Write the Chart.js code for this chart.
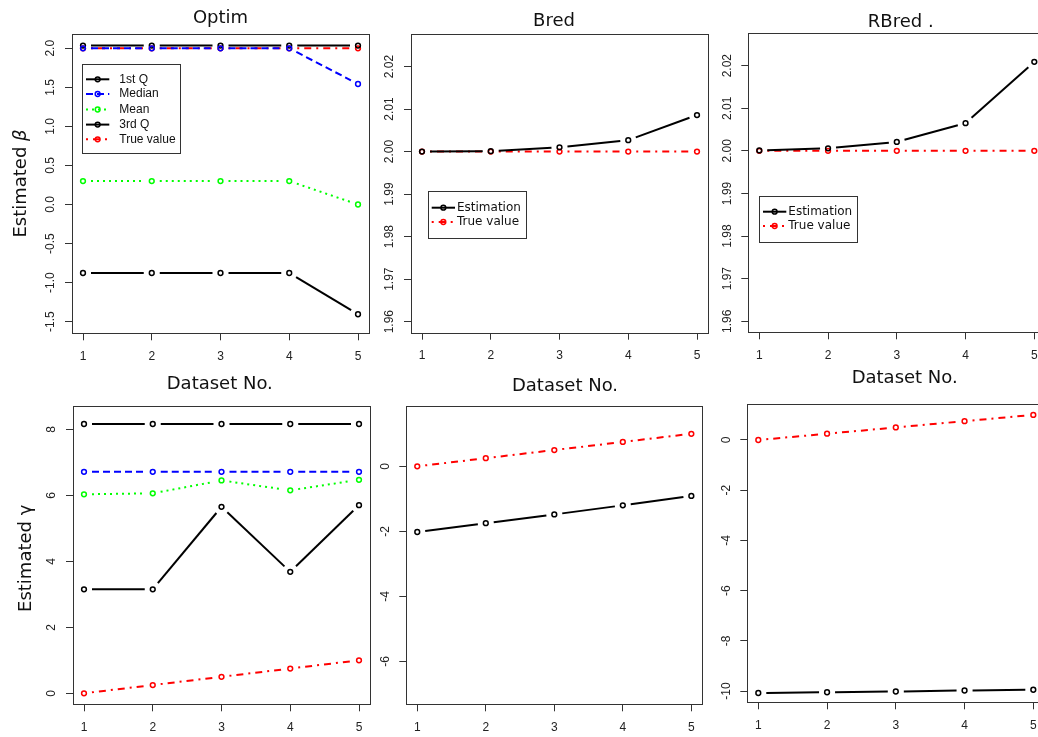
<!DOCTYPE html>
<html>
<head>
<meta charset="utf-8">
<script src="https://cdn.jsdelivr.net/npm/chart.js@4.4.1/dist/chart.umd.min.js"></script>
<style>
  html, body { margin: 0; padding: 0; background: #fff; }
  #page { position: relative; width: 1038px; height: 737px; overflow: hidden; background: #fff; }
  #page canvas { position: absolute; left: 0; top: 0; }
</style>
</head>
<body>
<div id="page"></div>
<script>
// values
const datasetNo = [1, 2, 3, 4, 5];

const betaOptim1stQ = [-0.877, -0.877, -0.877, -0.877, -1.405];
const betaOptimMedian = [2.0, 2.0, 2.0, 2.0, 1.543];
const betaOptimMean = [0.30, 0.30, 0.30, 0.30, 0.0];
const betaOptim3rdQ = [2.035, 2.035, 2.035, 2.035, 2.035];
const betaTrue = [2, 2, 2, 2, 2];
const betaBred = [2.0000, 2.0001, 2.0010, 2.0027, 2.0086];
const betaRBred = [2.0001, 2.0006, 2.0021, 2.0065, 2.0209];

const gammaOptim1stQ = [3.15, 3.15, 5.65, 3.68, 5.70];
const gammaOptimMedian = [6.71, 6.71, 6.71, 6.71, 6.71];
const gammaOptimMean = [6.03, 6.06, 6.45, 6.15, 6.47];
const gammaOptim3rdQ = [8.16, 8.16, 8.16, 8.16, 8.16];
const gammaTrue = [0, 0.25, 0.5, 0.75, 1.0];
const gammaBred = [-2.02, -1.75, -1.48, -1.20, -0.91];
const gammaRBred = [-10.08, -10.05, -10.02, -9.98, -9.95];

// tick labels
const xTicks = [1, 2, 3, 4, 5];
const betaOptimTicks = [-1.5, -1.0, -0.5, 0.0, 0.5, 1.0, 1.5, 2.0];
const betaBredTicks = [1.96, 1.97, 1.98, 1.99, 2.00, 2.01, 2.02];
const gammaOptimTicks = [0, 2, 4, 6, 8];
const gammaBredTicks = [-6, -4, -2, 0];
const gammaRBredTicks = [-10, -8, -6, -4, -2, 0];

const W = 1060, H = 737;
const LTY = { solid: null, dashed: [7, 4], dotted: [2, 4], dotdash: [2, 5, 7, 5] };
const GAP = 8;
const TICKFONT = '12px "Liberation Sans"';
const BIGFONT = '18px "DejaVu Sans"';

function segLen(sc) {
  return Math.hypot(sc.p1.x - sc.p0.x, sc.p1.y - sc.p0.y);
}

// R type="b": the line stops short of every point.
// one dash period == one segment, shifted so it opens with half the gap
function gapPattern(pattern, L) {
  const inner = L - 2 * GAP;
  if (!isFinite(L) || !(inner > 0)) return null;
  if (!pattern) return [inner, 2 * GAP];
  const dash = [];
  let used = 0, i = 0;
  while (used < inner - 0.01) {
    const on = Math.min(pattern[i % pattern.length], inner - used); used += on;
    const off = Math.min(pattern[(i + 1) % pattern.length], inner - used); used += off;
    dash.push(on, off);
    i += 2;
  }
  dash[dash.length - 1] += 2 * GAP;
  return dash;
}

function series(label, values, color, lty) {
  const pat = LTY[lty];
  return {
    label: label,
    lty: lty,
    data: values.map((v, i) => ({ x: datasetNo[i], y: v })),
    borderColor: color,
    borderWidth: 2,
    tension: 0,
    pointStyle: 'circle',
    pointRadius: 2.4,
    pointBorderWidth: 1.5,
    pointBorderColor: color,
    pointBackgroundColor: 'rgba(0,0,0,0)',
    segment: {
      borderDash: sc => gapPattern(pat, segLen(sc)) || (pat || []),
      borderDashOffset: sc => (gapPattern(pat, segLen(sc)) ? segLen(sc) - GAP : 0)
    }
  };
}

const panels = [
  {
    box: [72, 34.3, 369, 333.3], yMin: -1.649, yMax: 2.179, yTicks: betaOptimTicks, dec: 1,
    datasets: [
      series('1st Q', betaOptim1stQ, '#000000', 'solid'),
      series('Median', betaOptimMedian, '#0000ff', 'dashed'),
      series('Mean', betaOptimMean, '#00ff00', 'dotted'),
      series('3rd Q', betaOptim3rdQ, '#000000', 'solid'),
      series('True value', betaTrue, '#ff0000', 'dotdash')
    ],
    title: { text: 'Optim', x: 220.5, y: 23.3 },
    xlab: { text: 'Dataset No.', x: 219.8, y: 389.3 },
    ylab: { text: 'Estimated ', sym: 'β', italic: true, x: 26, y: 183.5 },
    legend: { box: [82.3, 64, 180, 153.3], rows: [79.3, 94, 109.5, 124.6, 139.3], line: [86, 109.3], textX: 119.3, font: '12px "Liberation Sans"' }
  },
  {
    box: [411, 34.3, 708, 332.7], yMin: 1.9574, yMax: 2.0276, yTicks: betaBredTicks, dec: 2,
    datasets: [
      series('Estimation', betaBred, '#000000', 'solid'),
      series('True value', betaTrue, '#ff0000', 'dotdash')
    ],
    title: { text: 'Bred', x: 554, y: 25.7 },
    xlab: { text: 'Dataset No.', x: 565, y: 390.7 },
    legend: { box: [427.7, 191.3, 525.7, 238.3], rows: [207.7, 222], line: [431.7, 455], textX: 457, font: '12px "DejaVu Sans"' }
  },
  {
    box: [748.3, 33.3, 1045.3, 332.3], yMin: 1.9574, yMax: 2.0276, yTicks: betaBredTicks, dec: 2,
    datasets: [
      series('Estimation', betaRBred, '#000000', 'solid'),
      series('True value', betaTrue, '#ff0000', 'dotdash')
    ],
    title: { text: 'RBred .', x: 900.7, y: 27.3 },
    xlab: { text: 'Dataset No.', x: 904.7, y: 383.3 },
    legend: { box: [759, 195.7, 856.7, 241.7], rows: [211.7, 226], line: [763, 786.3], textX: 788.3, font: '12px "DejaVu Sans"' }
  },
  {
    box: [73, 405.7, 370, 704.3], yMin: -0.333, yMax: 8.715, yTicks: gammaOptimTicks, dec: 0,
    datasets: [
      series('1st Q', gammaOptim1stQ, '#000000', 'solid'),
      series('Median', gammaOptimMedian, '#0000ff', 'dashed'),
      series('Mean', gammaOptimMean, '#00ff00', 'dotted'),
      series('3rd Q', gammaOptim3rdQ, '#000000', 'solid'),
      series('True value', gammaTrue, '#ff0000', 'dotdash')
    ],
    ylab: { text: 'Estimated ', sym: 'γ', italic: false, x: 30.5, y: 558.3 }
  },
  {
    box: [406.3, 406, 702.3, 704.3], yMin: -7.32, yMax: 1.855, yTicks: gammaBredTicks, dec: 0,
    datasets: [
      series('Estimation', gammaBred, '#000000', 'solid'),
      series('True value', gammaTrue, '#ff0000', 'dotdash')
    ]
  },
  {
    box: [747.3, 403.7, 1044.3, 702.3], yMin: -10.45, yMax: 1.446, yTicks: gammaRBredTicks, dec: 0,
    datasets: [
      series('Estimation', gammaRBred, '#000000', 'solid'),
      series('True value', gammaTrue, '#ff0000', 'dotdash')
    ]
  }
];

function decor(p) {
  return {
    id: 'rdecor',
    afterDraw(chart) {
      const ctx = chart.ctx, a = chart.chartArea;
      ctx.save();
      // box
      ctx.strokeStyle = '#333';
      ctx.lineWidth = 1;
      const l = Math.round(a.left) + 0.5, t = Math.round(a.top) + 0.5;
      ctx.strokeRect(l, t, Math.round(a.right) - Math.round(a.left), Math.round(a.bottom) - Math.round(a.top));

      // tick labels
      const xs = chart.scales.x, ys = chart.scales.y;
      ctx.fillStyle = '#222';
      ctx.font = TICKFONT;
      ctx.textAlign = 'center';
      ctx.textBaseline = 'alphabetic';
      xs.ticks.forEach(tk => {
        ctx.fillText(tk.label, xs.getPixelForValue(tk.value), a.bottom + 26.5);
      });
      ys.ticks.forEach(tk => {
        const py = ys.getPixelForValue(tk.value);
        ctx.save();
        ctx.translate(a.left - 17.7, py);
        ctx.rotate(-Math.PI / 2);
        ctx.fillText(tk.label, 0, 0);
        ctx.restore();
      });

      ctx.fillStyle = '#111';
      ctx.font = BIGFONT;
      if (p.title) ctx.fillText(p.title.text, p.title.x, p.title.y);
      if (p.xlab) ctx.fillText(p.xlab.text, p.xlab.x, p.xlab.y);
      if (p.ylab) {
        const f2 = (p.ylab.italic ? 'italic ' : '') + BIGFONT;
        ctx.font = BIGFONT;
        const w1 = ctx.measureText(p.ylab.text).width;
        ctx.font = f2;
        const w2 = ctx.measureText(p.ylab.sym).width;
        ctx.save();
        ctx.translate(p.ylab.x, p.ylab.y);
        ctx.rotate(-Math.PI / 2);
        ctx.textAlign = 'left';
        ctx.font = BIGFONT;
        ctx.fillText(p.ylab.text, -(w1 + w2) / 2, 0);
        ctx.font = f2;
        ctx.fillText(p.ylab.sym, -(w1 + w2) / 2 + w1, 0);
        ctx.restore();
      }

      if (p.legend) {
        const lg = p.legend, b = lg.box;
        ctx.fillStyle = '#fff';
        ctx.fillRect(b[0], b[1], b[2] - b[0], b[3] - b[1]);
        ctx.strokeStyle = '#333';
        ctx.lineWidth = 1;
        ctx.strokeRect(Math.round(b[0]) + 0.5, Math.round(b[1]) + 0.5, Math.round(b[2] - b[0]), Math.round(b[3] - b[1]));
        lg.rows.forEach((ry, i) => {
          const ds = chart.data.datasets[i];
          ctx.strokeStyle = ds.borderColor;
          ctx.lineWidth = 2;
          ctx.setLineDash(LTY[ds.lty] || []);
          ctx.beginPath();
          ctx.moveTo(lg.line[0], ry);
          ctx.lineTo(lg.line[1], ry);
          ctx.stroke();
          ctx.setLineDash([]);
          ctx.lineWidth = 1.5;
          ctx.beginPath();
          ctx.arc((lg.line[0] + lg.line[1]) / 2, ry, 2.4, 0, Math.PI * 2);
          ctx.stroke();
          ctx.fillStyle = '#111';
          ctx.font = lg.font;
          ctx.textAlign = 'left';
          ctx.textBaseline = 'middle';
          ctx.fillText(ds.label, lg.textX, ry);
        });
      }
      ctx.restore();
    }
  };
}

const page = document.getElementById('page');

panels.forEach(p => {
  const cv = document.createElement('canvas');
  cv.width = W;
  cv.height = H;
  cv.style.width = W + 'px';
  cv.style.height = H + 'px';
  page.appendChild(cv);

  new Chart(cv, {
    type: 'line',
    data: { datasets: p.datasets },
    options: {
      responsive: false,
      animation: false,
      events: [],
      layout: {
        autoPadding: false,
        padding: { left: p.box[0], top: p.box[1], right: W - p.box[2], bottom: H - p.box[3] }
      },
      plugins: { legend: { display: false }, tooltip: { enabled: false }, title: { display: false } },
      scales: {
        x: {
          type: 'linear', min: 0.84, max: 5.16,
          afterBuildTicks: s => { s.ticks = xTicks.map(v => ({ value: v })); },
          afterFit: s => { s.height = 0; },
          grid: { drawOnChartArea: false, drawTicks: true, tickLength: 7, color: '#333', lineWidth: 1 },
          border: { display: false },
          ticks: { display: false, callback: v => String(v) }
        },
        y: {
          type: 'linear', min: p.yMin, max: p.yMax,
          afterBuildTicks: s => { s.ticks = p.yTicks.map(v => ({ value: v })); },
          afterFit: s => { s.width = 0; },
          grid: { drawOnChartArea: false, drawTicks: true, tickLength: 7, color: '#333', lineWidth: 1 },
          border: { display: false },
          ticks: { display: false, callback: v => Number(v).toFixed(p.dec) }
        }
      }
    },
    plugins: [decor(p)]
  });
});
</script>
</body>
</html>
